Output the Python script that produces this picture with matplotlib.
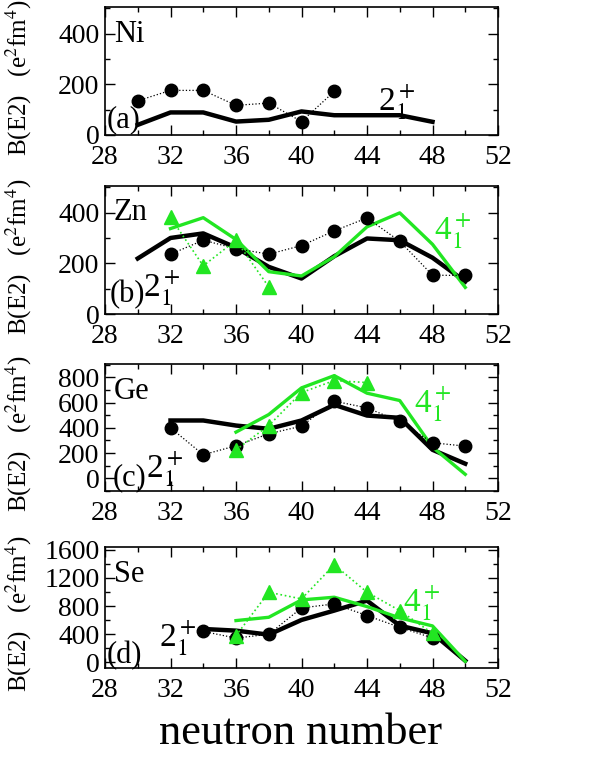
import matplotlib
matplotlib.use("Agg")
import matplotlib.pyplot as plt
from matplotlib.ticker import MultipleLocator

plt.rcParams["font.family"] = ["Liberation Serif", "DejaVu Serif"]
plt.rcParams["mathtext.fontset"] = "stix"

GREEN = "#22e622"

# ---- Ni (a) ----
ni_exp_n = [30, 32, 34, 36, 38, 40, 42]
ni_exp_2 = [135, 176, 176, 117, 126, 53, 172]
ni_th_n = [30, 32, 34, 36, 38, 40, 42, 44, 46, 48]
ni_th_2 = [40, 89, 89, 53, 60, 93, 78, 78, 78, 52]

# ---- Zn (b) ----
zn_exp_n = [32, 34, 36, 38, 40, 42, 44, 46, 48, 50]
zn_exp_2 = [236, 291, 258, 236, 270, 328, 379, 287, 153, 152]
zn_exp4_n = [32, 34, 36, 38]
zn_exp_4 = [381, 190, 291, 107]
zn_th_n = [30, 32, 34, 36, 38, 40, 42, 44, 46, 48, 50]
zn_th_2 = [219, 300, 318, 262, 186, 140, 228, 298, 291, 222, 128]
zn_th4_n = [32, 34, 36, 38, 40, 42, 44, 46, 48, 50]
zn_th_4 = [337, 380, 294, 167, 150, 226, 344, 399, 275, 105]

# ---- Ge (c) ----
ge_exp_n = [32, 34, 36, 38, 40, 42, 44, 46, 48, 50]
ge_exp_2 = [400, 187, 258, 353, 413, 611, 558, 450, 282, 255]
ge_exp4_n = [36, 38, 40, 42, 44]
ge_exp_4 = [226, 418, 679, 774, 758]
ge_th_n = [32, 34, 36, 38, 40, 42, 44, 46, 48, 50]
ge_th_2 = [458, 458, 418, 392, 458, 582, 497, 479, 226, 116]
ge_th4_n = [36, 38, 40, 42, 44, 46, 48, 50]
ge_th_4 = [366, 505, 716, 813, 674, 616, 247, 32]

# ---- Se (d) ----
se_exp_n = [34, 36, 38, 40, 42, 44, 46, 48]
se_exp_2 = [440, 345, 400, 774, 831, 665, 499, 347]
se_exp4_n = [36, 38, 40, 42, 44, 46, 48]
se_exp_4 = [380, 997, 902, 1387, 997, 736, 413]
se_th_n = [34, 36, 38, 40, 42, 44, 46, 48, 50]
se_th_2 = [475, 451, 394, 603, 736, 878, 522, 413, 24]
se_th4_n = [36, 38, 40, 42, 44, 46, 48, 50]
se_th_4 = [594, 641, 888, 926, 793, 632, 518, 14]

W, H = 589, 761
fig = plt.figure(figsize=(W / 100, H / 100), dpi=100)


def make_ax(top, bottom):
    left, right = 105, 498
    return fig.add_axes([left / W, 1 - bottom / H, (right - left) / W, (bottom - top) / H])


def style(ax, ylim, major, minor):
    ax.set_xlim(28, 52)
    ax.set_ylim(*ylim)
    ax.xaxis.set_major_locator(MultipleLocator(4))
    ax.xaxis.set_minor_locator(MultipleLocator(2))
    ax.yaxis.set_major_locator(MultipleLocator(major))
    ax.yaxis.set_minor_locator(MultipleLocator(minor))
    ax.tick_params(which="both", direction="in", top=True, right=True, labelsize=20, pad=4)
    ax.tick_params(axis="x", pad=7)
    ax.tick_params(which="major", length=7, width=1)
    ax.tick_params(which="minor", length=3.5, width=1)
    for s in ax.spines.values():
        s.set_linewidth(1.2)
    ax.set_ylabel("B(E2)   (e$^2$fm$^4$)", fontsize=18)
    ax.yaxis.set_label_coords(-0.18, 0.45)


def exp2(ax, n, v):
    ax.plot(n, v, ":", color="black", lw=0.9, marker="o", ms=9, mfc="black", mec="black")


def exp4(ax, n, v):
    ax.plot(n, v, ":", color=GREEN, lw=1.2, marker="^", ms=10, mfc=GREEN, mec=GREEN)


def th2(ax, n, v):
    ax.plot(n, v, "-", color="black", lw=3.2)


def th4(ax, n, v):
    ax.plot(n, v, "-", color=GREEN, lw=2.4)


# (a) Ni
ax = make_ax(7, 135)
style(ax, (0, 505), 200, 100)
exp2(ax, ni_exp_n, ni_exp_2)
th2(ax, ni_th_n, ni_th_2)
ax.text(28.55, 395, "Ni", fontsize=22, va="center")
ax.text(28.1, 60, "(a)", fontsize=22, va="center")
ax.text(44.7, 125, "2$_1^+$", fontsize=24, va="center")

# (b) Zn
ax = make_ax(186, 314)
style(ax, (0, 505), 200, 100)
th2(ax, zn_th_n, zn_th_2)
th4(ax, zn_th4_n, zn_th_4)
exp2(ax, zn_exp_n, zn_exp_2)
exp4(ax, zn_exp4_n, zn_exp_4)
ax.text(28.55, 400, "Zn", fontsize=22, va="center")
ax.text(28.3, 75, "(b)", fontsize=22, va="center")
ax.text(30.35, 95, "2$_1^+$", fontsize=24, va="center")
ax.text(48.1, 320, "4$_1^+$", fontsize=24, va="center", color=GREEN)

# (c) Ge
ax = make_ax(364, 491)
style(ax, (-100, 905), 200, 100)
th2(ax, ge_th_n, ge_th_2)
th4(ax, ge_th4_n, ge_th_4)
exp2(ax, ge_exp_n, ge_exp_2)
exp4(ax, ge_exp4_n, ge_exp_4)
ax.text(28.55, 690, "Ge", fontsize=22, va="center")
ax.text(28.45, 5, "(c)", fontsize=22, va="center")
ax.text(30.5, 60, "2$_1^+$", fontsize=24, va="center")
ax.text(46.9, 580, "4$_1^+$", fontsize=24, va="center", color=GREEN)

# (d) Se
ax = make_ax(547, 668)
style(ax, (-80, 1640), 400, 200)
th2(ax, se_th_n, se_th_2)
th4(ax, se_th4_n, se_th_4)
exp2(ax, se_exp_n, se_exp_2)
exp4(ax, se_exp4_n, se_exp_4)
ax.text(28.55, 1250, "Se", fontsize=22, va="center")
ax.text(28.1, 90, "(d)", fontsize=22, va="center")
ax.text(31.3, 330, "2$_1^+$", fontsize=24, va="center")
ax.text(46.2, 830, "4$_1^+$", fontsize=24, va="center", color=GREEN)

fig.text(0.51, 0.01, "neutron number", fontsize=32, ha="center", va="bottom")

fig.savefig("out.png", dpi=100)
